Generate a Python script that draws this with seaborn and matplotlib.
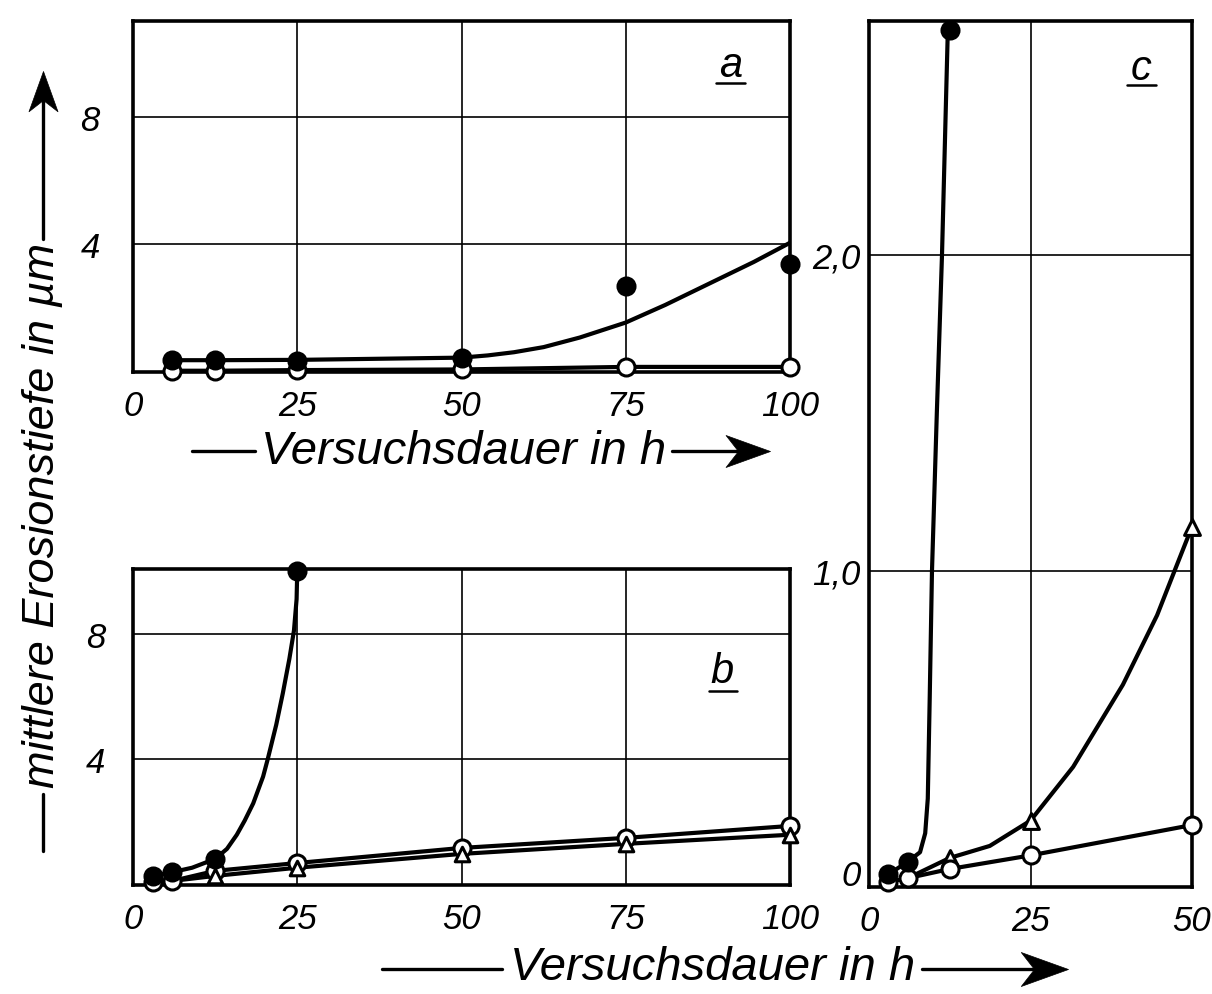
import matplotlib
matplotlib.use("Agg")
import matplotlib.pyplot as plt
import seaborn as sns
from matplotlib.transforms import ScaledTranslation
from matplotlib.lines import Line2D
from matplotlib.path import Path

# ---------------- data ----------------
# panel a
a_t = [6, 12.5, 25, 50, 75, 100]
a_filled = [0.37, 0.37, 0.35, 0.45, 2.7, 3.4]
a_open = [0.04, 0.04, 0.06, 0.08, 0.16, 0.16]
a_curve_t = [6, 12.5, 25, 50, 54, 58, 62.5, 68, 75, 81, 87.5, 94.5, 100]
a_curve = [0.37, 0.37, 0.38, 0.45, 0.52, 0.62, 0.78, 1.08, 1.55, 2.1, 2.75, 3.45, 4.05]

# panel b
b_t_filled = [3, 6, 12.5, 25]
b_filled = [0.29, 0.41, 0.83, 10.0]
b_curve_t = [3, 6, 9, 12.5, 14.3, 15.8, 17, 18.3, 19.8, 20.5, 21.8, 22.8, 23.8, 24.5, 24.9, 25]
b_curve = [0.29, 0.41, 0.55, 0.83, 1.15, 1.6, 2.05, 2.6, 3.45, 4.0, 5.1, 6.1, 7.2, 8.1, 9.1, 10.0]
b_t_open = [3, 6, 12.5, 25, 50, 75, 100]
b_open = [0.10, 0.13, 0.45, 0.70, 1.18, 1.50, 1.88]
b_t_tri = [6, 12.5, 25, 50, 75, 100]
b_tri = [0.13, 0.29, 0.55, 0.99, 1.31, 1.60]

# panel c
c_t_filled = [3, 6, 12.5]
c_filled = [0.04, 0.08, 2.71]
c_curve_t = [3, 6, 7.9, 8.7, 9.1, 9.4, 9.75, 10.5, 11.3, 12.2]
c_curve = [0.04, 0.08, 0.11, 0.17, 0.28, 0.6, 1.0, 1.5, 2.0, 2.71]
c_t_open = [3, 6, 12.5, 25, 50]
c_open = [0.016, 0.028, 0.057, 0.10, 0.196]
c_t_tri = [12.5, 25, 50]
c_tri = [0.092, 0.21, 1.14]
c_tri_curve_t = [6, 12.5, 18.7, 25, 31.6, 39.3, 44.6, 47.1, 50]
c_tri_curve = [0.028, 0.092, 0.13, 0.21, 0.38, 0.64, 0.86, 0.99, 1.14]

# axis ticks / labels
ab_xticks = [0, 25, 50, 75, 100]
ab_xlabels = ["0", "25", "50", "75", "100"]
ab_yticks = [4, 8]
ab_ylabels = ["4", "8"]
c_xticks = [0, 25, 50]
c_xlabels = ["0", "25", "50"]
c_yticks = [0, 1, 2]
c_ylabels = ["0", "1,0", "2,0"]

ylabel_text = "mittlere Erosionstiefe in µm"
xlabel_text = "Versuchsdauer in h"

# ---------------- style ----------------
sns.set_style("white")
plt.rcParams['font.family'] = ['Liberation Sans', 'DejaVu Sans']
plt.rcParams['font.style'] = 'italic'
plt.rcParams['text.color'] = 'black'

W, H = 1212, 995
fig = plt.figure(figsize=(W / 100, H / 100), dpi=100)


def px_axes(l, t, r, b):
    return fig.add_axes([l / W, 1 - b / H, (r - l) / W, (b - t) / H])


ax_a = px_axes(133, 22, 790, 373)
ax_b = px_axes(133, 570, 790, 886)
ax_c = px_axes(869, 22, 1192, 888)

LW = 3.0
MS = 150


def curve(ax, x, y, lw=LW, z=3):
    sns.lineplot(x=x, y=y, ax=ax, color="black", linewidth=lw, sort=False,
                 estimator=None, legend=False, zorder=z)


def points(ax, x, y, marker, face, z, s=MS):
    sns.scatterplot(x=x, y=y, ax=ax, marker=marker, color=face,
                    edgecolor="black", linewidth=2.2, s=s, legend=False,
                    zorder=z, clip_on=False)


def style_axis(ax, xt, xl, yt, yl, xlim, ylim, ypad):
    ax.set_xlim(*xlim)
    ax.set_ylim(*ylim)
    ax.set_xticks(xt)
    ax.set_xticklabels(xl)
    ax.set_yticks(yt)
    ax.set_yticklabels(yl)
    ax.grid(True, color="black", linewidth=1.2)
    ax.set_axisbelow(True)
    for sp in ax.spines.values():
        sp.set_visible(True)
        sp.set_color("black")
        sp.set_linewidth(2.6)
        sp.set_zorder(5)
    ax.tick_params(axis="both", length=0, labelsize=25, colors="black")
    ax.tick_params(axis="x", pad=12)
    ax.tick_params(axis="y", pad=ypad)
    ax.set_xlabel("")
    ax.set_ylabel("")
    for lab in ax.get_xticklabels() + ax.get_yticklabels():
        lab.set_fontstyle("italic")


# panel a
curve(ax_a, a_t, a_open)
curve(ax_a, a_curve_t, a_curve)
points(ax_a, a_t, a_open, "o", "white", 6)
points(ax_a, a_t, a_filled, "o", "black", 7)
style_axis(ax_a, ab_xticks, ab_xlabels, ab_yticks, ab_ylabels, (0, 100), (0, 11.0), 24)

# panel b
curve(ax_b, b_t_open, b_open)
curve(ax_b, b_t_tri, b_tri)
curve(ax_b, b_curve_t, b_curve)
points(ax_b, b_t_open, b_open, "o", "white", 6)
points(ax_b, b_t_tri[1:], b_tri[1:], "^", "white", 7, s=110)
points(ax_b, b_t_filled, b_filled, "o", "black", 8)
style_axis(ax_b, ab_xticks, ab_xlabels, ab_yticks, ab_ylabels, (0, 100), (0, 10.06), 20)

# panel c
curve(ax_c, c_t_open, c_open)
curve(ax_c, c_tri_curve_t, c_tri_curve)
curve(ax_c, c_curve_t, c_curve)
points(ax_c, c_t_tri, c_tri, "^", "white", 6, s=130)
points(ax_c, c_t_open, c_open, "o", "white", 7)
points(ax_c, c_t_filled, c_filled, "o", "black", 8)
style_axis(ax_c, c_xticks, c_xlabels, c_yticks, c_ylabels, (0, 50), (0, 2.74), 6)
# the "0" of panel c sits a little above the axis
zero_lab = ax_c.get_yticklabels()[0]
zero_lab.set_transform(zero_lab.get_transform() + ScaledTranslation(0, 0.15, fig.dpi_scale_trans))

# panel letters with underline
for ax, letter, xc, yb, yu, x0, x1 in [
    (ax_a, "a", 0.909, 0.843, 0.823, 0.887, 0.932),
    (ax_b, "b", 0.897, 0.642, 0.614, 0.877, 0.919),
    (ax_c, "c", 0.842, 0.933, 0.926, 0.800, 0.889),
]:
    ax.text(xc, yb, letter, transform=ax.transAxes, ha="center", va="baseline",
            fontsize=30, fontstyle="italic", zorder=10)
    ax.add_line(Line2D([x0, x1], [yu, yu], transform=ax.transAxes, color="black",
                       linewidth=1.8, zorder=10))


# axis titles with line and barbed arrow head (figure pixel coordinates)
def fx(x):
    return x / W


def fy(y):
    return 1 - y / H


def fig_line(x0, y0, x1, y1, lw=2.4):
    fig.add_artist(Line2D([fx(x0), fx(x1)], [fy(y0), fy(y1)], color="black",
                          linewidth=lw, transform=fig.transFigure))


HEAD_RIGHT = Path([(0, 0), (-1, 0.36), (-0.72, 0), (-1, -0.36), (0, 0)],
                  [Path.MOVETO, Path.LINETO, Path.LINETO, Path.LINETO, Path.CLOSEPOLY])
HEAD_UP = Path([(0, 0), (0.36, -1), (0, -0.72), (-0.36, -1), (0, 0)],
               [Path.MOVETO, Path.LINETO, Path.LINETO, Path.LINETO, Path.CLOSEPOLY])


def fig_head(x, y, path, size):
    fig.add_artist(Line2D([fx(x)], [fy(y)], marker=path, markersize=size,
                          color="black", markeredgewidth=0.5, linestyle="none",
                          transform=fig.transFigure))


# top x label
fig.text(fx(464), fy(452), xlabel_text, ha="center", va="center", fontsize=34,
         fontstyle="italic")
fig_line(192, 452, 255, 452)
fig_line(672, 452, 760, 452)
fig_head(770, 452, HEAD_RIGHT, 64)

# bottom x label
fig.text(fx(713), fy(968), xlabel_text, ha="center", va="center", fontsize=34,
         fontstyle="italic")
fig_line(382, 970, 502, 970)
fig_line(922, 970, 1055, 970)
fig_head(1068, 970, HEAD_RIGHT, 68)

# y label
fig.text(fx(43), fy(515), ylabel_text, ha="center", va="center", rotation=90,
         fontsize=32.5, fontstyle="italic")
fig_line(43, 852, 43, 795)
fig_line(43, 240, 43, 85)
fig_head(43, 72, HEAD_UP, 58)

fig.savefig("out.png", dpi=100)
